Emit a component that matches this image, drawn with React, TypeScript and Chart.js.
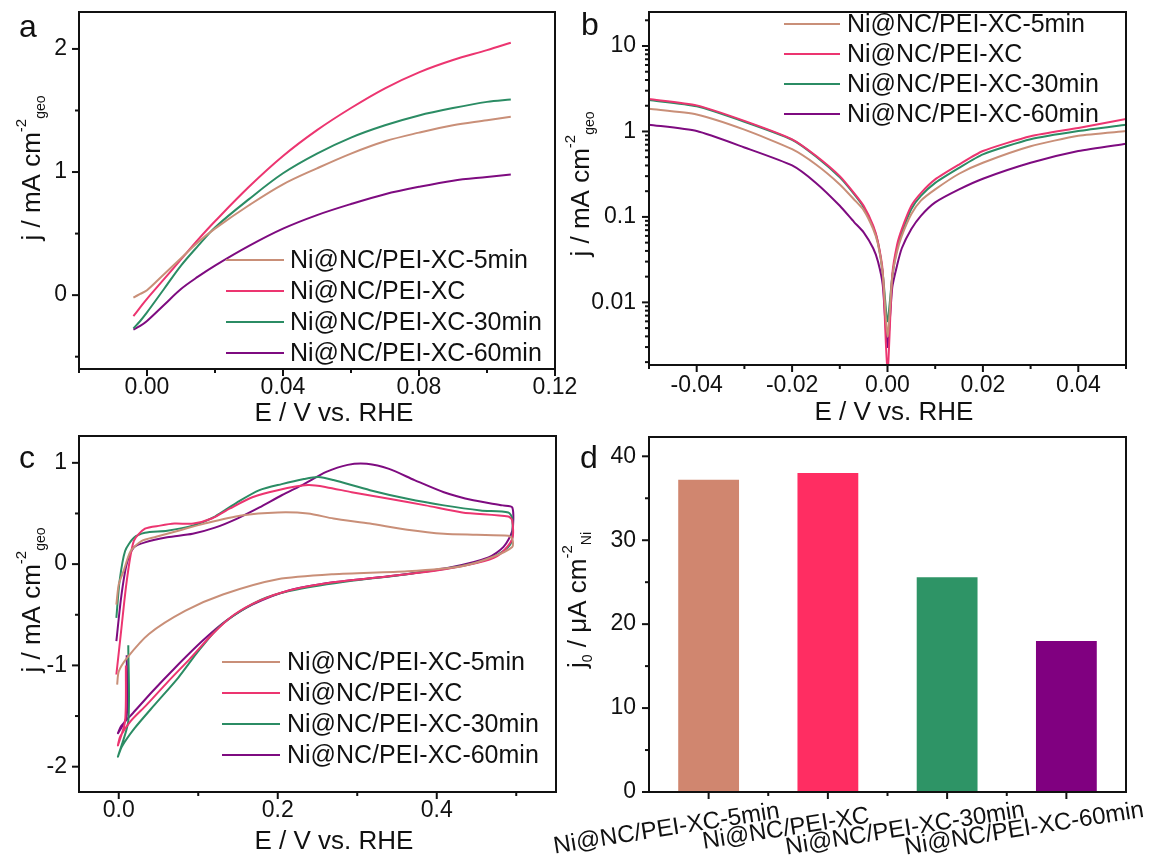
import { useEffect, useRef } from 'react';
import { Chart, registerables } from 'chart.js';

Chart.register(...registerables);

const FONT = '"Liberation Sans", Arial, Helvetica, sans-serif';
const INK = '#111111';

// ---- series ----
const seriesNames = ['Ni@NC/PEI-XC-5min', 'Ni@NC/PEI-XC', 'Ni@NC/PEI-XC-30min', 'Ni@NC/PEI-XC-60min'];
const lineColors = ['#C98F78', '#EC3570', '#2B8C64', '#7E0B80'];
const barColors = ['#D0866F', '#FF2D62', '#2E9466', '#800080'];

// (a) polarization curves, E / V vs. RHE and j / mA cm-2
const lsvE = [-0.004, -0.002, 0, 0.005, 0.01, 0.015, 0.02, 0.03, 0.04, 0.05, 0.06, 0.07, 0.08, 0.09, 0.1, 0.107];
const lsv5min = [-0.02, 0.01, 0.04, 0.17, 0.3, 0.43, 0.54, 0.73, 0.9, 1.03, 1.15, 1.25, 1.32, 1.38, 1.42, 1.45];
const lsvXC = [-0.17, -0.1, -0.03, 0.13, 0.29, 0.45, 0.6, 0.88, 1.13, 1.34, 1.52, 1.68, 1.81, 1.91, 1.99, 2.05];
const lsv30min = [-0.27, -0.21, -0.14, 0.05, 0.24, 0.4, 0.55, 0.78, 0.99, 1.15, 1.28, 1.38, 1.46, 1.52, 1.57, 1.59];
const lsv60min = [-0.28, -0.25, -0.21, -0.08, 0.05, 0.15, 0.24, 0.4, 0.54, 0.65, 0.74, 0.82, 0.88, 0.93, 0.96, 0.98];

// (b) |j| on a log axis around the equilibrium potential
const tafelE = [-0.05, -0.04, -0.03, -0.02, -0.015, -0.01, -0.007, -0.005, -0.003, -0.002, -0.001, 0, 0.001, 0.002, 0.003, 0.005, 0.007, 0.01, 0.015, 0.02, 0.03, 0.04, 0.05];
const tafel5min = [1.84, 1.58, 1.05, 0.62, 0.41, 0.24, 0.16, 0.12, 0.072, 0.048, 0.022, 0.004, 0.02, 0.039, 0.06, 0.108, 0.155, 0.21, 0.32, 0.43, 0.67, 0.89, 1.01];
const tafelXC = [2.4, 2.02, 1.33, 0.81, 0.52, 0.3, 0.19, 0.135, 0.079, 0.051, 0.023, 0.0015, 0.021, 0.047, 0.072, 0.135, 0.19, 0.275, 0.41, 0.59, 0.88, 1.1, 1.4];
const tafel30min = [2.33, 1.97, 1.3, 0.8, 0.51, 0.29, 0.185, 0.13, 0.076, 0.05, 0.022, 0.006, 0.02, 0.043, 0.066, 0.124, 0.176, 0.25, 0.375, 0.54, 0.81, 1.01, 1.2];
const tafel60min = [1.2, 1.01, 0.65, 0.4, 0.25, 0.135, 0.087, 0.066, 0.043, 0.03, 0.016, 0.003, 0.015, 0.027, 0.043, 0.072, 0.103, 0.148, 0.21, 0.28, 0.43, 0.59, 0.72];

// (c) cyclic voltammograms: anodic sweep, return sweep
const cv5minE = [-0.003, 0.0, 0.006, 0.015, 0.029, 0.047, 0.075, 0.108, 0.154, 0.2, 0.238, 0.27, 0.316, 0.363, 0.409, 0.45, 0.49, 0.495, 0.495, 0.47, 0.432, 0.363, 0.27, 0.2, 0.131, 0.084, 0.038, 0.01, 0.0, -0.002];
const cv5minJ = [-0.4, -0.2, -0.07, 0.13, 0.23, 0.27, 0.33, 0.4, 0.48, 0.51, 0.5, 0.45, 0.4, 0.34, 0.3, 0.29, 0.28, 0.25, 0.17, 0.07, -0.02, -0.07, -0.1, -0.15, -0.3, -0.46, -0.69, -0.93, -1.06, -1.19];
const cvXCE = [-0.003, 0.003, 0.01, 0.019, 0.033, 0.052, 0.07, 0.094, 0.117, 0.14, 0.168, 0.2, 0.238, 0.261, 0.293, 0.34, 0.386, 0.432, 0.49, 0.495, 0.495, 0.48, 0.46, 0.41, 0.34, 0.27, 0.214, 0.177, 0.145, 0.118, 0.09, 0.062, 0.035, 0.015, 0.002, -0.001, 0.008, 0.009];
const cvXCJ = [-1.09, -0.66, -0.17, 0.23, 0.35, 0.38, 0.4, 0.4, 0.45, 0.55, 0.66, 0.73, 0.78, 0.76, 0.71, 0.645, 0.58, 0.51, 0.47, 0.43, 0.25, 0.1, 0.03, -0.05, -0.12, -0.18, -0.26, -0.36, -0.5, -0.69, -0.93, -1.16, -1.39, -1.55, -1.7, -1.79, -1.55, -1.0];
const cv30minE = [-0.003, 0.001, 0.008, 0.019, 0.033, 0.061, 0.093, 0.121, 0.149, 0.177, 0.205, 0.233, 0.251, 0.27, 0.316, 0.363, 0.409, 0.455, 0.49, 0.495, 0.493, 0.47, 0.432, 0.363, 0.293, 0.224, 0.186, 0.154, 0.125, 0.1, 0.075, 0.045, 0.02, 0.004, -0.001, 0.012, 0.012];
const cv30minJ = [-0.53, -0.17, 0.13, 0.26, 0.31, 0.33, 0.38, 0.47, 0.61, 0.73, 0.79, 0.84, 0.86, 0.83, 0.73, 0.645, 0.58, 0.53, 0.51, 0.45, 0.2, 0.066, -0.017, -0.1, -0.165, -0.25, -0.33, -0.46, -0.63, -0.86, -1.12, -1.39, -1.62, -1.8, -1.9, -1.55, -0.8];
const cv60minE = [-0.003, 0.003, 0.01, 0.019, 0.033, 0.061, 0.093, 0.121, 0.149, 0.177, 0.205, 0.233, 0.261, 0.288, 0.312, 0.34, 0.372, 0.409, 0.446, 0.483, 0.495, 0.495, 0.484, 0.465, 0.418, 0.34, 0.27, 0.214, 0.168, 0.135, 0.105, 0.07, 0.042, 0.018, 0.003, -0.001, 0.01, 0.01];
const cv60minJ = [-0.76, -0.33, 0.0, 0.165, 0.215, 0.265, 0.3, 0.36, 0.45, 0.56, 0.68, 0.79, 0.91, 0.98, 0.99, 0.94, 0.83, 0.71, 0.63, 0.58, 0.56, 0.33, 0.17, 0.066, -0.03, -0.12, -0.18, -0.26, -0.4, -0.56, -0.76, -1.03, -1.26, -1.47, -1.6, -1.67, -1.5, -0.9];

// (d) exchange current density normalised by Ni
const j0Values = [37.2, 38.0, 25.6, 18.0];

// ---- ticks ----
const aXMajor = [0, 0.04, 0.08, 0.12];
const aXMinor = [-0.02, 0.02, 0.06, 0.1];
const aYMajor = [0, 1, 2];
const aYMinor = [-0.5, 0.5, 1.5];
const bXMajor = [-0.04, -0.02, 0, 0.02, 0.04];
const bXMinor = [-0.05, -0.03, -0.01, 0.01, 0.03, 0.05];
const bYMajor = [0.01, 0.1, 1, 10];
const bYMinor = [0.002, 0.003, 0.004, 0.005, 0.006, 0.007, 0.008, 0.009, 0.02, 0.03, 0.04, 0.05, 0.06, 0.07, 0.08, 0.09, 0.2, 0.3, 0.4, 0.5, 0.6, 0.7, 0.8, 0.9, 2, 3, 4, 5, 6, 7, 8, 9, 20];
const cXMajor = [0, 0.2, 0.4];
const cXMinor = [0.1, 0.3, 0.5];
const cYMajor = [-2, -1, 0, 1];
const cYMinor = [-1.5, -0.5, 0.5];
const dYMajor = [0, 10, 20, 30, 40];
const dYMinor = [5, 15, 25, 35];

type Rect = { x: number; y: number; w: number; h: number };
type Area = { l: number; t: number; r: number; b: number };
type Part = { text: string; size: number; dy: number };

interface Decor {
  canvas: Rect;
  letter: { text: string; x: number; y: number };
  xTitle?: { text: string; x: number; y: number };
  yTitle: { parts: Part[]; x: number; y: number };
  legend?: { x: number; len: number; textX: number; y: number; dy: number; size: number };
  catLabels?: { dx: number; y: number; angle: number; size: number };
  categoryTicks?: boolean;
}

const zip = (xs: number[], ys: number[]) => xs.map((x, i) => ({ x, y: ys[i] }));
const merge = (a: number[], b: number[]) => [...a, ...b].sort((p, q) => p - q);

function decorPlugin(d: Decor) {
  return {
    id: 'panelDecor',
    afterDraw(chart: any) {
      const ctx: CanvasRenderingContext2D = chart.ctx;
      const area = chart.chartArea;
      ctx.save();
      ctx.strokeStyle = INK;
      ctx.lineWidth = 2;
      ctx.lineCap = 'butt';
      // frame
      ctx.strokeRect(area.left, area.top, area.right - area.left, area.bottom - area.top);
      // outward tick marks on the left and bottom axes
      const ys = chart.scales.y;
      for (const t of ys.ticks) {
        const p = ys.getPixelForValue(t.value);
        const len = t.label !== '' ? 7 : 4;
        ctx.beginPath();
        ctx.moveTo(area.left, p);
        ctx.lineTo(area.left - len, p);
        ctx.stroke();
      }
      const xs = chart.scales.x;
      if (d.categoryTicks) {
        const n = chart.data.labels.length;
        for (let i = 0; i < n; i++) {
          const p = xs.getPixelForValue(i);
          ctx.beginPath();
          ctx.moveTo(p, area.bottom);
          ctx.lineTo(p, area.bottom + 7);
          ctx.stroke();
          if (i < n - 1) {
            const q = xs.getPixelForValue(i + 0.5);
            ctx.beginPath();
            ctx.moveTo(q, area.bottom);
            ctx.lineTo(q, area.bottom + 4);
            ctx.stroke();
          }
        }
      } else {
        for (const t of xs.ticks) {
          const p = xs.getPixelForValue(t.value);
          const len = t.label !== '' ? 7 : 4;
          ctx.beginPath();
          ctx.moveTo(p, area.bottom);
          ctx.lineTo(p, area.bottom + len);
          ctx.stroke();
        }
      }
      ctx.restore();

      // everything below in page coordinates
      ctx.save();
      ctx.translate(-d.canvas.x, -d.canvas.y);
      ctx.fillStyle = INK;

      // panel letter
      ctx.font = `32px ${FONT}`;
      ctx.textAlign = 'left';
      ctx.textBaseline = 'alphabetic';
      ctx.fillText(d.letter.text, d.letter.x, d.letter.y);

      // x title
      if (d.xTitle) {
        ctx.font = `26px ${FONT}`;
        ctx.textAlign = 'center';
        ctx.textBaseline = 'middle';
        ctx.fillText(d.xTitle.text, d.xTitle.x, d.xTitle.y);
      }

      // rotated y title with super/subscripts
      {
        const parts = d.yTitle.parts;
        const widths = parts.map((p) => {
          ctx.font = `${p.size}px ${FONT}`;
          return ctx.measureText(p.text).width;
        });
        const total = widths.reduce((s, w) => s + w, 0);
        ctx.save();
        ctx.translate(d.yTitle.x, d.yTitle.y);
        ctx.rotate(-Math.PI / 2);
        ctx.textAlign = 'left';
        ctx.textBaseline = 'alphabetic';
        let x = -total / 2;
        parts.forEach((p, i) => {
          ctx.font = `${p.size}px ${FONT}`;
          ctx.fillText(p.text, x, p.dy);
          x += widths[i];
        });
        ctx.restore();
      }

      // legend built from the datasets
      if (d.legend) {
        const L = d.legend;
        chart.data.datasets.forEach((ds: any, i: number) => {
          const y = L.y + i * L.dy;
          ctx.strokeStyle = ds.borderColor;
          ctx.lineWidth = 2.2;
          ctx.beginPath();
          ctx.moveTo(L.x, y);
          ctx.lineTo(L.x + L.len, y);
          ctx.stroke();
          ctx.font = `${L.size}px ${FONT}`;
          ctx.textAlign = 'left';
          ctx.textBaseline = 'middle';
          ctx.fillStyle = INK;
          ctx.fillText(ds.label, L.textX, y + 1);
        });
      }

      // tilted category labels
      if (d.catLabels) {
        const C = d.catLabels;
        ctx.font = `${C.size}px ${FONT}`;
        ctx.textAlign = 'center';
        ctx.textBaseline = 'middle';
        chart.data.labels.forEach((lab: string, i: number) => {
          const px = xs.getPixelForValue(i) + d.canvas.x + C.dx;
          ctx.save();
          ctx.translate(px, C.y);
          ctx.rotate((C.angle * Math.PI) / 180);
          ctx.fillText(lab, 0, 0);
          ctx.restore();
        });
      }
      ctx.restore();
    },
  };
}

function axis(
  kind: 'x' | 'y',
  type: string,
  min: number,
  max: number,
  major: number[],
  minor: number[],
  fmt: (v: number) => string,
  fit: number,
  padding: number
) {
  const all = merge(major, minor);
  return {
    type,
    min,
    max,
    position: kind === 'x' ? 'bottom' : 'left',
    grid: { display: false, drawTicks: false },
    border: { display: false },
    afterBuildTicks: (s: any) => {
      s.ticks = all.map((v) => ({ value: v }));
    },
    afterFit: (s: any) => {
      if (kind === 'x') s.height = fit;
      else s.width = fit;
      s.paddingTop = 0;
      s.paddingBottom = 0;
      s.paddingLeft = 0;
      s.paddingRight = 0;
    },
    ticks: {
      autoSkip: false,
      maxRotation: 0,
      minRotation: 0,
      padding,
      color: INK,
      font: { family: FONT, size: 23, lineHeight: 1.2 },
      callback: (v: number) => (major.includes(v) ? fmt(v) : ''),
    },
  };
}

function layoutPadding(c: Rect, a: Area) {
  return { top: a.t - c.y, right: c.x + c.w - a.r, left: 0, bottom: 0 };
}

const fixed2 = (v: number) => (Math.abs(v) < 1e-9 ? '0.00' : v.toFixed(2));
const fixed1 = (v: number) => (Math.abs(v) < 1e-9 ? '0.0' : v.toFixed(1));
const plain = (v: number) => String(v);

const commonPlugins = { legend: { display: false }, tooltip: { enabled: false } };

const lineDataset = (label: string, color: string, pts: { x: number; y: number }[], tension = 0.35) => ({
  label,
  data: pts,
  borderColor: color,
  backgroundColor: color,
  borderWidth: 2,
  pointRadius: 0,
  showLine: true,
  fill: false,
  tension,
});

// ---- panel configs ----
const panelA = () => {
  const c: Rect = { x: 0, y: 0, w: 580, h: 430 };
  const a: Area = { l: 79, t: 12, r: 555, b: 369 };
  const decor: Decor = {
    canvas: c,
    letter: { text: 'a', x: 19, y: 37 },
    xTitle: { text: 'E / V vs. RHE', x: 334, y: 414 },
    yTitle: {
      x: 40,
      y: 168,
      parts: [
        { text: 'j / mA cm', size: 26, dy: 0 },
        { text: '-2', size: 15, dy: -14 },
        { text: 'geo', size: 14, dy: 5 },
      ],
    },
    legend: { x: 226, len: 58, textX: 290, y: 260, dy: 31, size: 25 },
  };
  return {
    rect: c,
    config: {
      type: 'scatter',
      data: {
        datasets: [
          lineDataset(seriesNames[0], lineColors[0], zip(lsvE, lsv5min)),
          lineDataset(seriesNames[1], lineColors[1], zip(lsvE, lsvXC)),
          lineDataset(seriesNames[2], lineColors[2], zip(lsvE, lsv30min)),
          lineDataset(seriesNames[3], lineColors[3], zip(lsvE, lsv60min)),
        ],
      },
      options: {
        responsive: false,
        maintainAspectRatio: false,
        animation: false,
        devicePixelRatio: 1,
        layout: { padding: layoutPadding(c, a) },
        plugins: commonPlugins,
        scales: {
          x: axis('x', 'linear', -0.02, 0.12, aXMajor, aXMinor, fixed2, c.y + c.h - a.b, 5),
          y: axis('y', 'linear', -0.6, 2.3, aYMajor, aYMinor, plain, a.l - c.x, 12),
        },
      },
      plugins: [decorPlugin(decor)],
    },
  };
};

const panelB = () => {
  const c: Rect = { x: 560, y: 0, w: 602, h: 430 };
  const a: Area = { l: 649, t: 12, r: 1126, b: 365 };
  const decor: Decor = {
    canvas: c,
    letter: { text: 'b', x: 581, y: 35 },
    xTitle: { text: 'E / V vs. RHE', x: 894, y: 413 },
    yTitle: {
      x: 589,
      y: 184,
      parts: [
        { text: 'j / mA cm', size: 26, dy: 0 },
        { text: '-2', size: 15, dy: -14 },
        { text: 'geo', size: 14, dy: 5 },
      ],
    },
    legend: { x: 784, len: 56, textX: 847, y: 24, dy: 30, size: 25 },
  };
  return {
    rect: c,
    config: {
      type: 'scatter',
      data: {
        datasets: [
          lineDataset(seriesNames[0], lineColors[0], zip(tafelE, tafel5min), 0.2),
          lineDataset(seriesNames[1], lineColors[1], zip(tafelE, tafelXC), 0.2),
          lineDataset(seriesNames[2], lineColors[2], zip(tafelE, tafel30min), 0.2),
          lineDataset(seriesNames[3], lineColors[3], zip(tafelE, tafel60min), 0.2),
        ],
      },
      options: {
        responsive: false,
        maintainAspectRatio: false,
        animation: false,
        devicePixelRatio: 1,
        layout: { padding: layoutPadding(c, a) },
        plugins: commonPlugins,
        scales: {
          x: axis('x', 'linear', -0.05, 0.05, bXMajor, bXMinor, fixed2, c.y + c.h - a.b, 7),
          y: axis('y', 'logarithmic', 0.00185, 25, bYMajor, bYMinor, plain, a.l - c.x, 13),
        },
      },
      plugins: [decorPlugin(decor)],
    },
  };
};

const panelC = () => {
  const c: Rect = { x: 0, y: 430, w: 580, h: 436 };
  const a: Area = { l: 79, t: 436, r: 556, b: 792 };
  const decor: Decor = {
    canvas: c,
    letter: { text: 'c', x: 19, y: 468 },
    xTitle: { text: 'E / V vs. RHE', x: 334, y: 842 },
    yTitle: {
      x: 40,
      y: 600,
      parts: [
        { text: 'j / mA cm', size: 26, dy: 0 },
        { text: '-2', size: 15, dy: -14 },
        { text: 'geo', size: 14, dy: 5 },
      ],
    },
    legend: { x: 222, len: 58, textX: 287, y: 662, dy: 31, size: 25 },
  };
  return {
    rect: c,
    config: {
      type: 'scatter',
      data: {
        datasets: [
          lineDataset(seriesNames[0], lineColors[0], zip(cv5minE, cv5minJ), 0.25),
          lineDataset(seriesNames[1], lineColors[1], zip(cvXCE, cvXCJ), 0.25),
          lineDataset(seriesNames[2], lineColors[2], zip(cv30minE, cv30minJ), 0.25),
          lineDataset(seriesNames[3], lineColors[3], zip(cv60minE, cv60minJ), 0.25),
        ],
      },
      options: {
        responsive: false,
        maintainAspectRatio: false,
        animation: false,
        devicePixelRatio: 1,
        layout: { padding: layoutPadding(c, a) },
        plugins: commonPlugins,
        scales: {
          x: axis('x', 'linear', -0.05, 0.55, cXMajor, cXMinor, fixed1, c.y + c.h - a.b, 5),
          y: axis('y', 'linear', -2.25, 1.265, cYMajor, cYMinor, plain, a.l - c.x, 12),
        },
      },
      plugins: [decorPlugin(decor)],
    },
  };
};

const panelD = () => {
  const c: Rect = { x: 500, y: 430, w: 662, h: 436 };
  const a: Area = { l: 649, t: 437, r: 1126, b: 792 };
  const decor: Decor = {
    canvas: c,
    letter: { text: 'd', x: 580, y: 468 },
    yTitle: {
      x: 586,
      y: 600,
      parts: [
        { text: 'j', size: 26, dy: 0 },
        { text: '0', size: 14, dy: 6 },
        { text: ' / μA cm', size: 26, dy: 0 },
        { text: '-2', size: 15, dy: -14 },
        { text: 'Ni', size: 14, dy: 5 },
      ],
    },
    catLabels: { dx: -42, y: 829, angle: -9, size: 24 },
    categoryTicks: true,
  };
  const yAxis = axis('y', 'linear', 0, 42.3, dYMajor, dYMinor, plain, a.l - c.x, 13);
  return {
    rect: c,
    config: {
      type: 'bar',
      data: {
        labels: seriesNames,
        datasets: [
          {
            label: 'j0',
            data: j0Values,
            backgroundColor: barColors,
            borderWidth: 0,
            barPercentage: 0.51,
            categoryPercentage: 1,
          },
        ],
      },
      options: {
        responsive: false,
        maintainAspectRatio: false,
        animation: false,
        devicePixelRatio: 1,
        layout: { padding: layoutPadding(c, a) },
        plugins: commonPlugins,
        scales: {
          x: {
            type: 'category',
            offset: true,
            position: 'bottom',
            grid: { display: false, drawTicks: false, offset: true },
            border: { display: false },
            afterFit: (s: any) => {
              s.height = c.y + c.h - a.b;
              s.paddingLeft = 0;
              s.paddingRight = 0;
              s.paddingTop = 0;
              s.paddingBottom = 0;
            },
            ticks: { display: true, autoSkip: false, maxRotation: 0, minRotation: 0, callback: () => '' },
          },
          y: yAxis,
        },
      },
      plugins: [decorPlugin(decor)],
    },
  };
};

function ChartPanel({ make }: { make: () => { rect: Rect; config: any } }) {
  const ref = useRef<HTMLCanvasElement>(null);
  const { rect } = make();
  useEffect(() => {
    const { config } = make();
    const chart = new Chart(ref.current as HTMLCanvasElement, config);
    return () => chart.destroy();
  }, [make]);
  return (
    <canvas
      ref={ref}
      width={rect.w}
      height={rect.h}
      style={{ position: 'absolute', left: rect.x, top: rect.y, width: rect.w, height: rect.h }}
    />
  );
}

export default function App() {
  return (
    <div
      style={{
        position: 'absolute',
        left: 0,
        top: 0,
        width: 1162,
        height: 866,
        background: '#ffffff',
        overflow: 'hidden',
      }}
    >
      <ChartPanel make={panelA} />
      <ChartPanel make={panelB} />
      <ChartPanel make={panelC} />
      <ChartPanel make={panelD} />
    </div>
  );
}
